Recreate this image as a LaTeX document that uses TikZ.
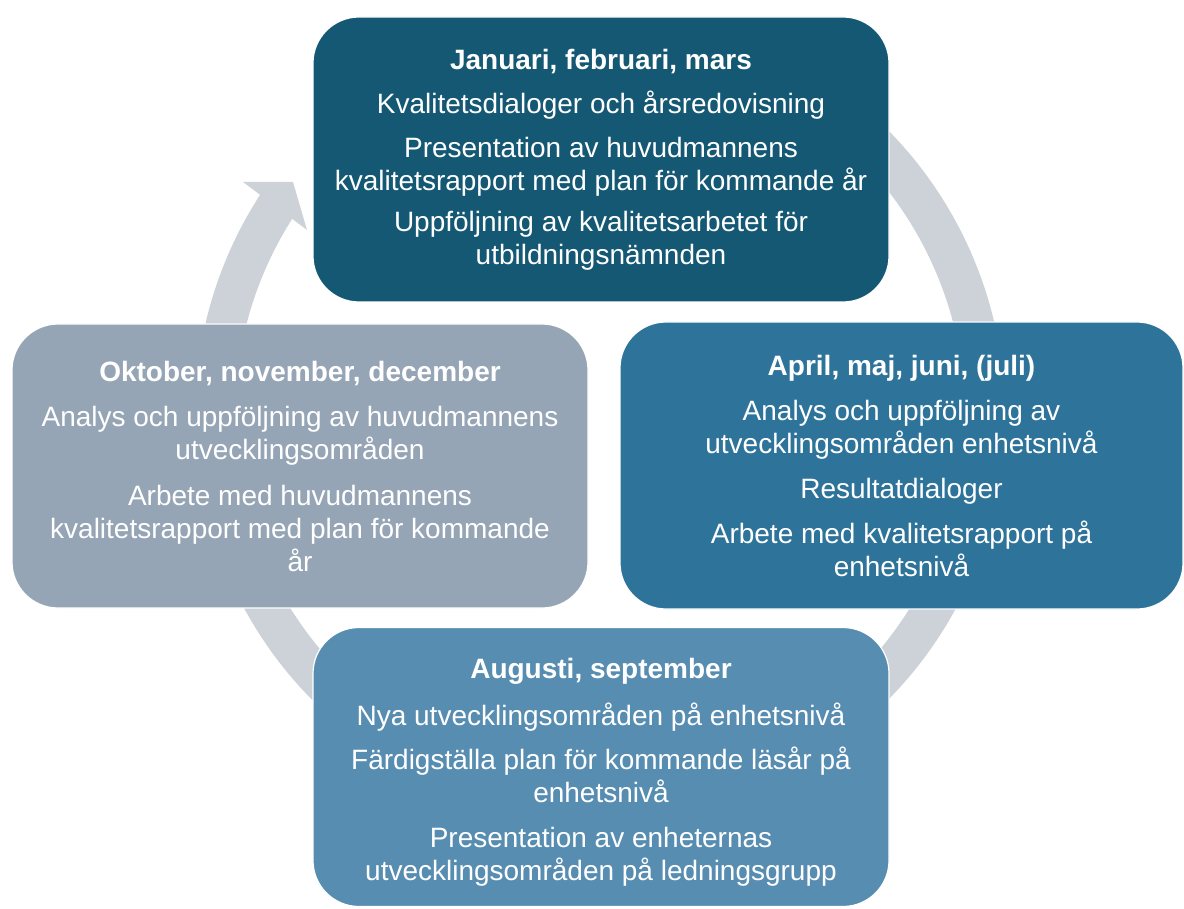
\documentclass[tikz,border=0pt]{standalone}
\usepackage{fontspec}
\setmainfont{Liberation Sans}
\definecolor{ringc}{HTML}{CDD2D9}
\definecolor{qone}{HTML}{145874}
\definecolor{qtwo}{HTML}{2E7399}
\definecolor{qthree}{HTML}{588DB2}
\definecolor{qfour}{HTML}{95A5B5}
\begin{document}
\begin{tikzpicture}[x=1pt,y=-1pt,
  box/.style={rounded corners=46pt, draw=white, line width=1.2pt, text=white,
    align=center, font=\fontsize{28}{33}\selectfont, inner sep=0pt},
  ring/.style={draw=ringc, line width=40pt, line cap=butt},
  ringhead/.style={fill=ringc}]
\useasboundingbox (0,0) rectangle (1184,909);
\coordinate (c) at (600,415);
% cycle ring with arrow head
\draw[ring] (c) ++(292:385) arc[start angle=292, end angle=574, radius=385];
\coordinate (hb1) at (243,182);
\coordinate (htip) at (293,182);
\coordinate (hb2) at (307,230);
\fill[ringhead] (hb1) -- (htip) -- (hb2) -- cycle;
% boxes
\node[box, fill=qone, minimum width=576pt, minimum height=285pt] (q1) at (601,159.5)
 {\textbf{Januari, februari, mars}\\[11pt]
  Kvalitetsdialoger och årsredovisning\\[11pt]
  Presentation av huvudmannens\\
  kvalitetsrapport med plan för kommande år\\[8pt]
  Uppföljning av kvalitetsarbetet för\\
  utbildningsnämnden};
\node[box, fill=qtwo, minimum width=563pt, minimum height=287pt] (q2) at (901.5,465.5)
 {\textbf{April, maj, juni, (juli)}\\[12pt]
  Analys och uppföljning av\\
  utvecklingsområden enhetsnivå\\[12pt]
  Resultatdialoger\\[12pt]
  Arbete med kvalitetsrapport på\\
  enhetsnivå};
\node[box, fill=qthree, minimum width=576pt, minimum height=279pt] (q3) at (601,767)
 {\rule{0pt}{30pt}\textbf{Augusti, september}\\[14pt]
  Nya utvecklingsområden på enhetsnivå\\[11pt]
  Färdigställa plan för kommande läsår på\\
  enhetsnivå\\[12pt]
  Presentation av enheternas\\
  utvecklingsområden på ledningsgrupp};
\node[box, fill=qfour, minimum width=576pt, minimum height=284pt] (q4) at (300,466)
 {\textbf{Oktober, november, december}\\[12pt]
  Analys och uppföljning av huvudmannens\\
  utvecklingsområden\\[13pt]
  Arbete med huvudmannens\\
  kvalitetsrapport med plan för kommande\\
  år};
\end{tikzpicture}
\end{document}
